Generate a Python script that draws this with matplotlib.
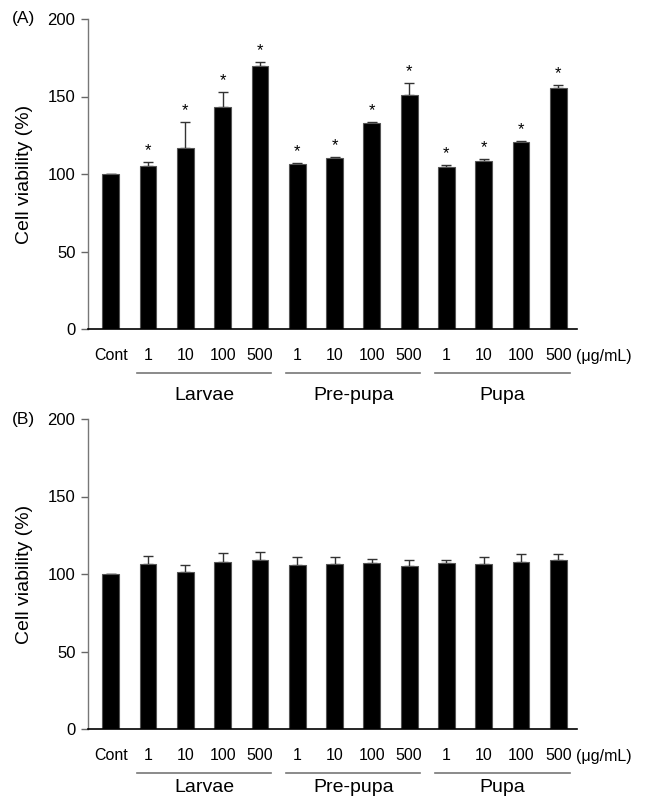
import matplotlib
matplotlib.use("Agg")
import matplotlib.pyplot as plt
import matplotlib.transforms as mtransforms

plt.rcParams['font.family'] = ['Liberation Sans', 'DejaVu Sans']

tick_labels = ["Cont", "1", "10", "100", "500", "1", "10", "100", "500", "1", "10", "100", "500"]
groups = ["Larvae", "Pre-pupa", "Pupa"]
group_members = [[1, 2, 3, 4], [5, 6, 7, 8], [9, 10, 11, 12]]

a_values = [100, 105.3, 116.9, 143.1, 169.9, 106.5, 110.4, 132.8, 151.2, 104.6, 108.7, 120.5, 155.5]
a_errors = [0, 2.3, 16.9, 9.9, 2.4, 0.6, 0.5, 0.8, 7.8, 1.1, 0.7, 0.9, 2.2]
a_signif = [False, True, True, True, True, True, True, True, True, True, True, True, True]

b_values = [100, 106.3, 101.4, 107.8, 108.9, 105.7, 106.3, 106.8, 105.0, 106.8, 106.3, 107.8, 108.9]
b_errors = [0, 5.2, 4.3, 5.6, 5.2, 5.1, 4.5, 3.2, 4.3, 2.1, 4.5, 5.2, 4.1]
b_signif = [False] * 13

unit_label = "(μg/mL)"

fig = plt.figure(figsize=(6.45, 7.99), dpi=100)
W, H = 645, 799

def make_panel(top_px, bottom_px, values, errors, signif, letter, group_label_px):
    left_px, right_px = 88, 577
    ax = fig.add_axes([left_px / W, 1 - bottom_px / H, (right_px - left_px) / W, (bottom_px - top_px) / H])
    x = list(range(len(values)))
    ax.bar(x, values, width=0.45, color='black', edgecolor='#555555', linewidth=0.8, zorder=2)
    ax.errorbar(x, values, yerr=[[0] * len(errors), errors], fmt='none', ecolor='#333333',
                elinewidth=1.0, capsize=3.5, capthick=1.0, zorder=1)
    for xi, v, e, s in zip(x, values, errors, signif):
        if s:
            ax.text(xi, v + e + 2.5, "*", ha='center', va='bottom', fontsize=12)
    ax.set_xlim(-0.61, 12.5)
    ax.set_ylim(0, 200)
    ax.set_yticks([0, 50, 100, 150, 200])
    ax.tick_params(axis='y', direction='out', length=5, width=1, color='#666666', labelsize=12, pad=4)
    ax.set_xticks(x)
    ax.set_xticklabels(tick_labels)
    ax.tick_params(axis='x', length=0, labelsize=11.5, pad=14)
    for sp in ['top', 'right']:
        ax.spines[sp].set_visible(False)
    ax.spines['left'].set_color('#777777')
    ax.spines['left'].set_linewidth(1.0)
    ax.spines['bottom'].set_color('black')
    ax.spines['bottom'].set_linewidth(1.2)
    h = bottom_px - top_px
    w = right_px - left_px
    ax.set_ylabel("Cell viability (%)", fontsize=14)
    ax.yaxis.set_label_coords((33 - left_px) / w, 0.5)
    trans = mtransforms.blended_transform_factory(ax.transData, ax.transAxes)
    ax.text(12.48, -27 / h, unit_label, transform=trans, ha='left', va='center', fontsize=11.5)
    for g, members in zip(groups, group_members):
        x0, x1 = members[0] - 0.3, members[-1] + 0.3
        ax.plot([x0, x1], [-44 / h, -44 / h], transform=trans, color='#777777', lw=1.2, clip_on=False)
        ax.text((members[0] + members[-1]) / 2, -(group_label_px - bottom_px) / h, g, transform=trans,
                ha='center', va='center', fontsize=14)
    fig.text(12 / W, 1 - top_px / H, f"({letter})", ha='left', va='center', fontsize=12.5)
    return ax

make_panel(19, 329, a_values, a_errors, a_signif, "A", 396)
make_panel(419, 729, b_values, b_errors, b_signif, "B", 787)

fig.savefig("out.png", dpi=100)
